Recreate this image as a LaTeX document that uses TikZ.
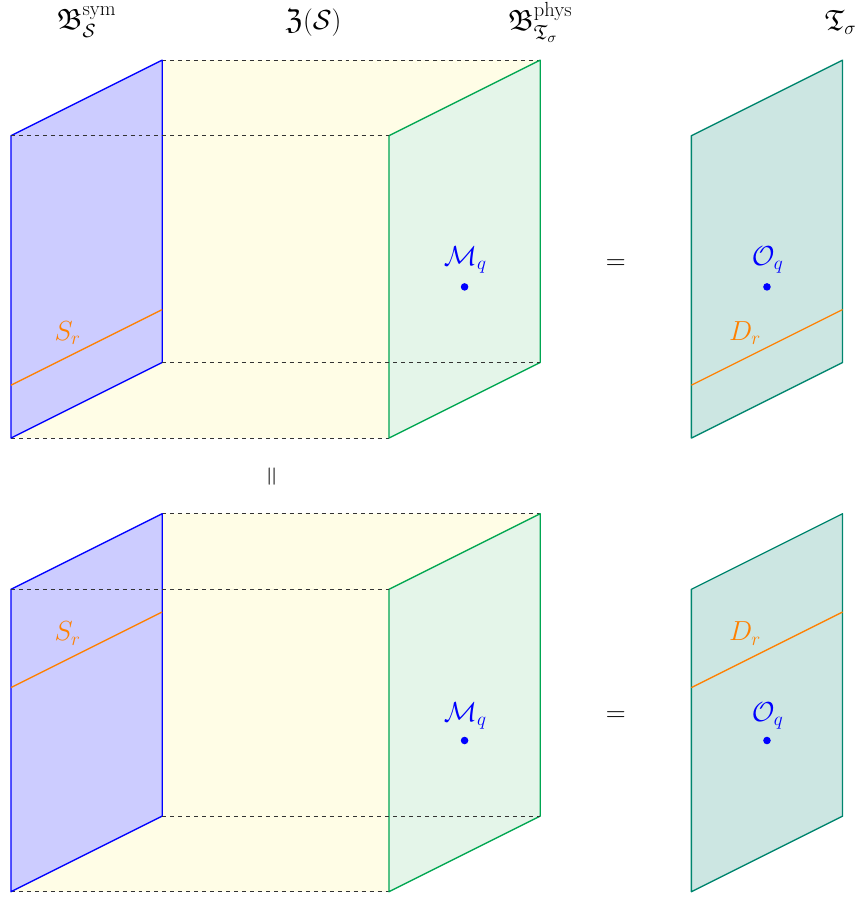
\documentclass[tikz,border=0pt]{standalone}
\usepackage{xcolor}
\usepackage{amsmath}
\usepackage{amssymb}
\usepackage{graphicx}
\usepackage{tikz}
\usetikzlibrary{arrows.meta, positioning, calc}
\definecolor{symblue}{RGB}{0,0,255}
\definecolor{symfill}{RGB}{204,204,255}
\definecolor{bulkfill}{RGB}{255,253,230}
\definecolor{physgreen}{RGB}{0,166,81}
\definecolor{physfill}{RGB}{228,245,233}
\definecolor{thteal}{RGB}{0,133,110}
\definecolor{thfill}{RGB}{204,230,226}
\definecolor{deforange}{RGB}{255,128,0}
\newcommand{\lblsize}{\fontsize{22}{26}\selectfont}
\tikzset{
  lbl/.style={font=\lblsize, inner sep=1pt},
  bulk/.style={fill=bulkfill, draw=none},
  edge/.style={dashed, thin, color=black!80},
  symplane/.style={draw=symblue, fill=symfill, line width=1pt, line join=round},
  physplane/.style={draw=physgreen, fill=physfill, line width=1pt, line join=round},
  thplane/.style={draw=thteal, fill=thfill, line width=1pt, line join=round},
  defline/.style={color=deforange, line width=1pt},
  deflbl/.style={font=\lblsize, text=deforange, inner sep=1pt},
  oplbl/.style={font=\lblsize, text=symblue, inner sep=1pt},
  opdot/.style={circle, fill=symblue, inner sep=0pt, minimum size=0.2cm}
}

\begin{document}
\begin{tikzpicture}[x=1cm, y=1cm, >=Stealth, thick]
  \useasboundingbox (-0.29,-12.14) rectangle (22.5,11.59);

  % Top labels
  \node[lbl] (symlbl) at (2,11) {$\mathfrak{B}^{\text{sym}}_{\mathcal{S}}$};
  \node[lbl] (zlbl) at (8,11) {$\mathfrak{Z}(\mathcal{S})$};
  \node[lbl] (physlbl) at (14,11) {$\mathfrak{B}^{\text{phys}}_{\mathfrak{T}_\sigma}$};
  \node[lbl] (thlbl) at (21.95,11) {$\mathfrak{T}_\sigma$};

  % Upper row: line below the point
  \begin{scope}
    % Bulk slab
    \fill[bulk] (0,0) -- (0,8) -- (4,10) -- (14,10) -- (14,2) -- (10,0) -- cycle;
    \draw[edge] (4,10) -- (14,10);
    \draw[edge] (0,0) -- (10,0);
    % Boundaries
    \filldraw[symplane] (0,0) -- (0,8) -- (4,10) -- (4,2) -- cycle;
    \filldraw[physplane] (10,0) -- (10,8) -- (14,10) -- (14,2) -- cycle;
    \draw[edge] (0,8) -- (10,8);
    \draw[edge] (4,2) -- (14,2);
    \filldraw[thplane] (18,0) -- (18,8) -- (22,10) -- (22,2) -- cycle;
    % Lines and points
    \draw[defline] (0,1.4) -- (4,3.4);
    \draw[defline] (18,1.4) -- (22,3.4);
    \node[deflbl] (srtop) at (1.5,2.78) {$S_r$};
    \node[deflbl] (drtop) at (19.42,2.78) {$D_r$};
    \node[opdot] (mtop) at (12,4) {};
    \node[opdot] (otop) at (20,4) {};
    \node[oplbl] (mlbltop) at (12.02,4.71) {$\mathcal{M}_q$};
    \node[oplbl] (olbltop) at (20.02,4.71) {$\mathcal{O}_q$};
    \node[lbl] (eqtop) at (16,4.6) {$=$};
  \end{scope}

  % Vertical equality
  \node[lbl] (veq) at (6.95,-1.03) {\rotatebox{90}{$=$}};

  % Lower row: line above the point
  \begin{scope}[yshift=-12cm]
    % Bulk slab
    \fill[bulk] (0,0) -- (0,8) -- (4,10) -- (14,10) -- (14,2) -- (10,0) -- cycle;
    \draw[edge] (4,10) -- (14,10);
    \draw[edge] (0,0) -- (10,0);
    % Boundaries
    \filldraw[symplane] (0,0) -- (0,8) -- (4,10) -- (4,2) -- cycle;
    \filldraw[physplane] (10,0) -- (10,8) -- (14,10) -- (14,2) -- cycle;
    \draw[edge] (0,8) -- (10,8);
    \draw[edge] (4,2) -- (14,2);
    \filldraw[thplane] (18,0) -- (18,8) -- (22,10) -- (22,2) -- cycle;
    % Lines and points
    \draw[defline] (0,5.4) -- (4,7.4);
    \draw[defline] (18,5.4) -- (22,7.4);
    \node[deflbl] (srbot) at (1.5,6.83) {$S_r$};
    \node[deflbl] (drbot) at (19.42,6.83) {$D_r$};
    \node[opdot] (mbot) at (12,4) {};
    \node[opdot] (obot) at (20,4) {};
    \node[oplbl] (mlblbot) at (12.02,4.66) {$\mathcal{M}_q$};
    \node[oplbl] (olblbot) at (20.02,4.66) {$\mathcal{O}_q$};
    \node[lbl] (eqbot) at (16,4.63) {$=$};
  \end{scope}
\end{tikzpicture}
\end{document}
